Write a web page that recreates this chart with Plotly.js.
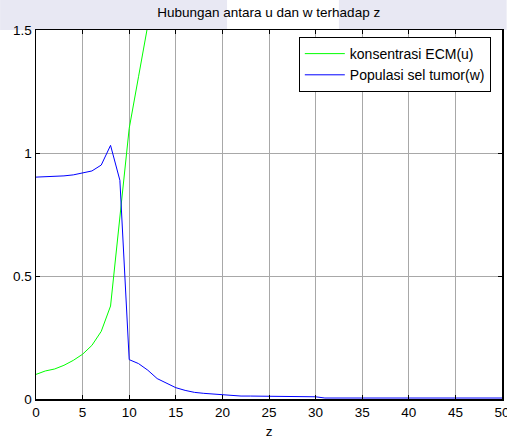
<!DOCTYPE html>
<html>
<head>
<meta charset="utf-8">
<script src="https://cdn.plot.ly/plotly-3.0.1.min.js"></script>
<style>html,body{margin:0;padding:0;background:#fff;}#chart{width:507px;height:439px;}</style>
</head>
<body>
<div id="chart"></div>
<script>
const z = [0,1,2,3,4,5,6,7,8,9,10,11,12,13,14,15,16,17,18,19,20,21,22,23,24,25,26,27,28,29,30,31,32,33,34,35,36,37,38,39,40,41,42,43,44,45,46,47,48,49,50];
const uECM = [0.100,0.114,0.122,0.137,0.157,0.182,0.218,0.275,0.378,0.74,1.10,1.31,1.52,1.73,1.94];
const zU = z.slice(0, uECM.length);
const wTumor = [0.902,0.903,0.904,0.907,0.911,0.918,0.927,0.951,1.031,0.889,0.160,0.144,0.117,0.083,0.063,0.046,0.035,0.027,0.023,0.020,0.019,0.014,0.012,0.012,0.012,0.010,0.009,0.009,0.009,0.009,0.009,0.004,0.004,0.004,0.004,0.004,0.004,0.004,0.004,0.004,0.004,0.004,0.004,0.004,0.004,0.004,0.004,0.004,0.004,0.004,0.004];
const xTicks = [0,5,10,15,20,25,30,35,40,45,50];
const yTicks = [0,0.5,1,1.5];
const seriesNames = ['konsentrasi ECM(u)','Populasi sel tumor(w)'];

const traces = [
  {x: zU, y: uECM, name: seriesNames[0], mode: 'lines', line: {color: '#00ff00', width: 1}},
  {x: z, y: wTumor, name: seriesNames[1], mode: 'lines', line: {color: '#0000ff', width: 1}}
];

const layout = {
  width: 507, height: 439,
  margin: {l: 36, r: 4.5, t: 30, b: 40},
  paper_bgcolor: '#ffffff', plot_bgcolor: '#ffffff',
  font: {family: 'Liberation Sans, Arial, sans-serif', size: 13.5, color: '#000'},
  title: {text: 'Hubungan antara u dan w terhadap z', x: 0.53, xanchor: 'center', y: 0.972, yanchor: 'middle', font: {size: 13.5}},
  xaxis: {
    range: [0, 50], tickvals: xTicks, ticktext: xTicks.map(String),
    ticks: 'inside', ticklen: 4, tickcolor: '#000', mirror: 'ticks',
    showline: true, linecolor: '#000', linewidth: 1.5,
    showgrid: true, gridcolor: '#a8a8a8', gridwidth: 1, zeroline: false,
    title: {text: 'z', standoff: 8, font: {size: 13.5}},
    tickfont: {size: 13.5}, ticklabeloverflow: 'allow'
  },
  yaxis: {
    range: [0, 1.5], tickvals: yTicks, ticktext: ['0','0.5','1','1.5'],
    ticks: 'inside', ticklen: 4, tickcolor: '#000', mirror: 'ticks',
    showline: true, linecolor: '#000', linewidth: 1.5,
    showgrid: true, gridcolor: '#a8a8a8', gridwidth: 1, zeroline: false,
    tickfont: {size: 13.5}, ticklabeloverflow: 'allow'
  },
  showlegend: true,
  legend: {
    x: 0.564, xanchor: 'left', y: 0.981, yanchor: 'top',
    bgcolor: '#ffffff', bordercolor: '#000', borderwidth: 1,
    font: {size: 14}, tracegroupgap: 0, itemwidth: 40
  },
  shapes: [
    {type: 'rect', xref: 'paper', yref: 'paper', layer: 'below', x0: -0.077, x1: 0.41, y0: 1.0, y1: 1.09, fillcolor: '#e8e8f3', line: {width: 0}},
    {type: 'rect', xref: 'paper', yref: 'paper', layer: 'below', x0: 0.65, x1: 1.01, y0: 1.0, y1: 1.09, fillcolor: '#e8e8f3', line: {width: 0}}
  ]
};

Plotly.newPlot('chart', traces, layout, {displayModeBar: false, staticPlot: true});
</script>
</body>
</html>
